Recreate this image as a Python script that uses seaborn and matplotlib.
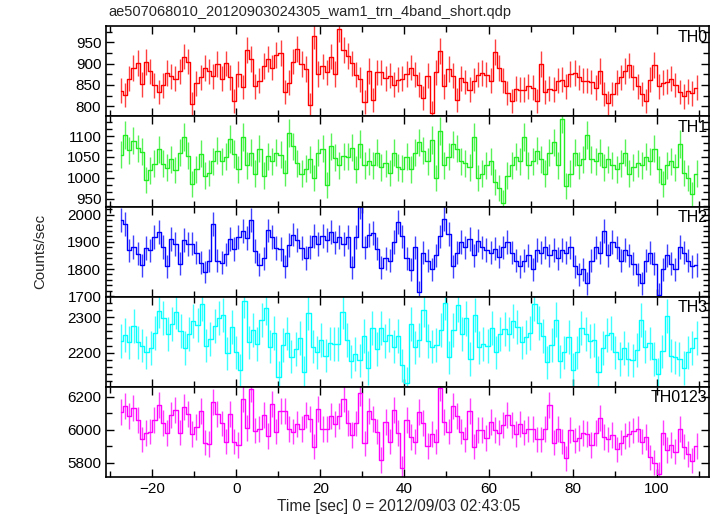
import numpy as np
import matplotlib
matplotlib.use("Agg")
import matplotlib.pyplot as plt
import seaborn as sns
import pandas as pd
from matplotlib.ticker import MultipleLocator, AutoMinorLocator

# ---------------- data (counts/sec, 1-s bins) ----------------
T_FIRST = -27.5
T_LAST = 109.5

th0 = [837, 826, 865, 890, 902, 852, 904, 882, 849, 833, 849, 878, 870, 865, 882, 917, 905, 805,
       854, 868, 890, 882, 870, 899, 865, 901, 868, 812, 876, 845, 933, 911, 847, 860, 895, 911,
       891, 921, 925, 833, 855, 905, 935, 899, 888, 802, 966, 876, 894, 880, 917, 876, 982, 933,
       919, 901, 874, 864, 810, 883, 815, 880, 880, 866, 872, 851, 862, 865, 876, 891, 874, 851,
       819, 872, 784, 880, 929, 847, 888, 872, 815, 866, 857, 839, 860, 874, 878, 874, 860, 927,
       890, 860, 831, 813, 841, 839, 839, 847, 844, 812, 899, 833, 841, 839, 860, 862, 847, 876,
       878, 868, 860, 860, 857, 844, 883, 829, 808, 829, 855, 868, 883, 896, 868, 847, 829, 812,
       862, 897, 847, 855, 858, 865, 850, 833, 823, 835, 830, 844]

th1 = [1055, 1102, 1066, 1089, 1071, 1063, 994, 1018, 1034, 1068,
       1034, 1024, 1044, 1019, 1060, 1097, 1053, 985, 1020, 1058,
       1005, 1012, 1040, 1065, 1040, 1050, 1093, 1057, 1020, 1097,
       1030, 1060, 1010, 1070, 1005, 1052, 1040, 1060, 1055, 1012,
       1107, 1075, 1035, 1010, 1022, 1045, 1000, 1060, 1070, 983,
       1075, 1048, 1030, 1052, 1050, 1072, 1020, 1081, 1030, 1040,
       1030, 1060, 1025, 1035, 1012, 1060, 1025, 1022, 1050, 1020,
       1060, 1085, 1065, 1040, 1090, 1000, 1112, 1030, 1050, 1080,
       1070, 1040, 1035, 1025, 1097, 1000, 1010, 1030, 1040, 990,
       975, 940, 1005, 1030, 1050, 1040, 1097, 1030, 1040, 1065,
       1045, 1010, 1060, 1085, 1030, 1141, 980, 1010, 1060, 1030,
       1045, 1102, 1045, 1040, 1060, 1025, 1045, 1030, 1020, 1035,
       1060, 1010, 1025, 1035, 1030, 1050, 1040, 1070, 1020, 985,
       1030, 1040, 1025, 1081, 1011, 1000, 960, 1010]

th2 = [1980, 1967, 1869, 1882, 1857, 1814, 1877, 1869, 1919, 1936,
       1882, 1810, 1910, 1892, 1819, 1907, 1892, 1894, 1860, 1823,
       1789, 1830, 1965, 1831, 1823, 1854, 1910, 1873, 1917, 1940,
       1915, 1980, 1867, 1816, 1839, 1942, 1919, 1877, 1873, 1810,
       1889, 1927, 1907, 1877, 1841, 1882, 1923, 1892, 1923, 1907,
       1936, 1898, 1917, 1892, 1919, 1806, 1919, 2028, 1880, 1925,
       1932, 1875, 1804, 1840, 1830, 1900, 1974, 1920, 1840, 1797,
       1880, 1716, 1860, 1830, 1800, 1850, 1920, 1986, 1930, 1810,
       1860, 1900, 1880, 1910, 1850, 1905, 1880, 1870, 1860, 1875,
       1845, 1880, 1900, 1860, 1830, 1810, 1830, 1850, 1800, 1870,
       1860, 1880, 1850, 1870, 1840, 1870, 1860, 1880, 1810, 1780,
       1800, 1747, 1830, 1880, 1860, 1940, 1850, 1900, 1880, 1830,
       1870, 1850, 1820, 1780, 1747, 1830, 1860, 1820, 1706, 1800,
       1850, 1820, 1800, 1882, 1860, 1830, 1810, 1815]

th3 = [2233, 2250, 2229, 2275, 2229, 2220, 2201, 2213, 2256, 2317,
       2298, 2252, 2281, 2315, 2261, 2213, 2252, 2289, 2278, 2337,
       2220, 2238, 2275, 2298, 2306, 2198, 2272, 2201, 2150, 2346,
       2229, 2263, 2224, 2291, 2326, 2217, 2256, 2131, 2222, 2254,
       2189, 2210, 2241, 2145, 2312, 2217, 2201, 2235, 2192, 2226,
       2224, 2224, 2315, 2235, 2176, 2196, 2178, 2247, 2157, 2268,
       2210, 2268, 2233, 2250, 2217, 2247, 2164, 2115, 2281, 2215,
       2235, 2321, 2233, 2217, 2222, 2263, 2340, 2187, 2263, 2333,
       2252, 2296, 2182, 2306, 2215, 2224, 2219, 2268, 2201, 2252,
       2266, 2252, 2289, 2272, 2229, 2243, 2256, 2337, 2284, 2247,
       2173, 2222, 2293, 2176, 2201, 2243, 2152, 2201, 2268, 2252,
       2233, 2235, 2145, 2213, 2250, 2256, 2201, 2182, 2213, 2182,
       2178, 2207, 2291, 2217, 2226, 2182, 2139, 2204, 2303, 2192,
       2187, 2182, 2157, 2201, 2213, 2241]

th0123 = [6107, 6145, 6085, 6131, 6061, 5943, 5980, 5990, 6061, 6152,
          6044, 5980, 6091, 6121, 5984, 6137, 6097, 5976, 6016, 6117,
          5923, 5915, 6172, 6097, 6040, 5929, 6097, 5929, 5909, 6186,
          6010, 6246, 5996, 6004, 6091, 5964, 6158, 5990, 6117, 6117,
          6004, 5990, 6036, 6004, 6091, 6065, 5899, 6125, 6004, 6004,
          6085, 6036, 6085, 6186, 6044, 5970, 6040, 6226, 5919, 6117,
          6065, 5990, 5818, 6050, 5929, 6121, 5980, 5768, 6061, 5956,
          5929, 6111, 6044, 5903, 5976, 5929, 6252, 6050, 5990, 6145,
          6085, 5990, 5943, 6117, 5899, 6000, 6000, 5950, 6050, 6000,
          5984, 6030, 6091, 6030, 5976, 6036, 5984, 6004, 6004, 5943,
          5943, 6004, 6152, 5923, 6004, 5929, 5828, 6000, 5935, 5950,
          5980, 5976, 5909, 5980, 6071, 5956, 5943, 5970, 5883, 5923,
          5964, 5976, 5996, 6004, 5929, 5956, 5834, 5802, 5733, 5984,
          5879, 5909, 5869, 6004, 5899, 5855, 5814, 5903]

panel_names = ["TH0", "TH1", "TH2", "TH3", "TH0123"]
series = [th0, th1, th2, th3, th0123]
colors = ["#ff0000", "#22ee22", "#0000ff", "#00ffff", "#ff00ff"]
ylims = [(776, 988), (931, 1147), (1698, 2030), (2104, 2357), (5715, 6261)]
ymajor = [50, 50, 100, 100, 200]
yminor_n = [2, 3, 5, 5, 2]

title = "ae507068010_20120903024305_wam1_trn_4band_short.qdp"
xlabel = "Time [sec] 0 = 2012/09/03 02:43:05"
ylabel = "Counts/sec"

# ---------------- plot ----------------
sns.set_theme(style="ticks")
plt.rcParams["font.family"] = ["Liberation Sans", "DejaVu Sans"]
plt.rcParams["axes.unicode_minus"] = True

fig, axes = plt.subplots(5, 1, sharex=True, figsize=(7.17, 5.16), dpi=100)
fig.subplots_adjust(left=0.148, right=0.989, top=0.949, bottom=0.0756, hspace=0)

for ax, name, vals, col, yl, ym, yn in zip(axes, panel_names, series, colors,
                                           ylims, ymajor, yminor_n):
    vals = np.asarray(vals, dtype=float)
    t = np.linspace(T_FIRST, T_LAST, len(vals))
    err = np.sqrt(vals)  # Poisson error for 1-s bins
    df = pd.DataFrame({"t": t, "rate": vals})
    ax.errorbar(t, vals, yerr=err, fmt="none", ecolor=col, elinewidth=1.0,
                alpha=0.75, capsize=0)
    sns.lineplot(data=df, x="t", y="rate", ax=ax, color=col, linewidth=1.0,
                 drawstyle="steps-mid", estimator=None, legend=False)
    ax.set_ylim(*yl)
    ax.set_xlim(-31, 112.5)
    ax.yaxis.set_major_locator(MultipleLocator(ym))
    ax.yaxis.set_minor_locator(AutoMinorLocator(yn))
    ax.xaxis.set_major_locator(MultipleLocator(20))
    ax.xaxis.set_minor_locator(MultipleLocator(10))
    ax.tick_params(which="both", direction="in", top=True, right=True,
                   labelsize=11, colors="black", width=1.0)
    ax.tick_params(which="major", length=6)
    ax.tick_params(which="minor", length=4)
    ax.set_xlabel("")
    ax.set_ylabel("")
    for sp in ax.spines.values():
        sp.set_linewidth(1.2)
        sp.set_color("black")
    ax.text(0.997, 0.96, name, transform=ax.transAxes, ha="right", va="top",
            fontsize=11.5, color="black")
    ax.set_facecolor("white")

fig.text(0.1506, 0.977, title, ha="left", va="center", fontsize=10.5)
fig.text(0.556, 0.018, xlabel, ha="center", va="center", fontsize=11.2)
fig.text(0.056, 0.513, ylabel, ha="center", va="center", rotation=90, fontsize=10.8)

fig.savefig("out.png", dpi=100, facecolor="white")
